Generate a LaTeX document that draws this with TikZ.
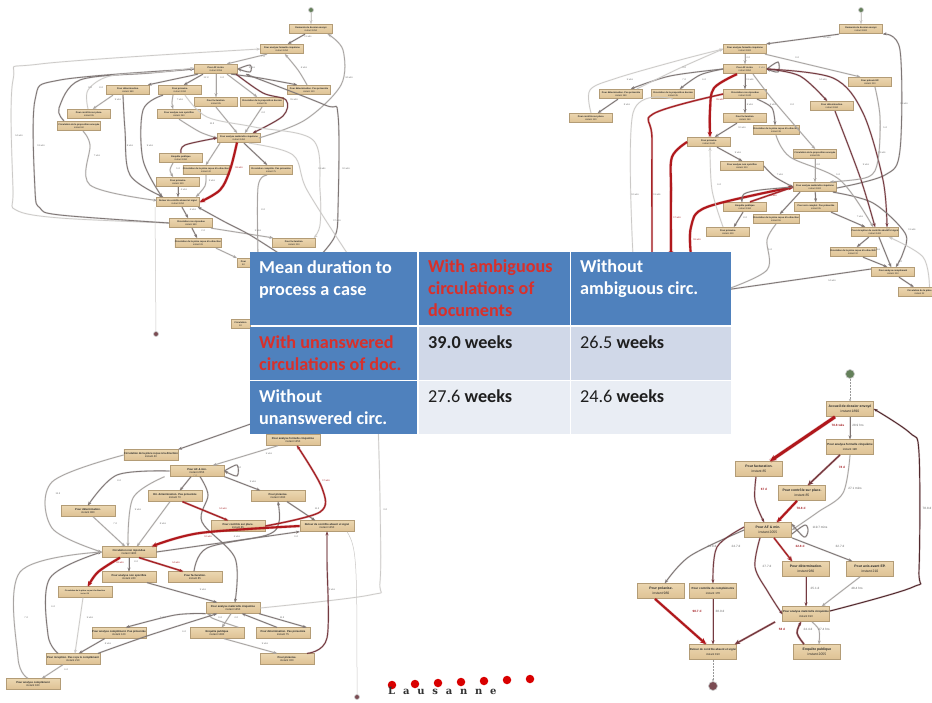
\documentclass[tikz,border=0pt]{standalone}
\usepackage{fontspec}
\usetikzlibrary{arrows.meta}
\setmainfont{Liberation Sans}
\newfontfamily\calib{Carlito}
\newfontfamily\lausfont[LetterSpace=78]{DejaVu Serif}
\definecolor{hdr}{HTML}{4F81BD}
\definecolor{rowa}{HTML}{D0D8E8}
\definecolor{rowb}{HTML}{E9EDF4}
\definecolor{redtxt}{HTML}{D8302B}
\definecolor{tana}{HTML}{EBD6B0}
\definecolor{tanb}{HTML}{DEC294}
\definecolor{tanl}{HTML}{B39C76}
\definecolor{cgl}{HTML}{CBC9C7}
\definecolor{cgm}{HTML}{A8A4A2}
\definecolor{cgd}{HTML}{7E7675}
\definecolor{cmr}{HTML}{743A40}
\definecolor{crd}{HTML}{A62428}
\definecolor{crt}{HTML}{B0181C}
\definecolor{cstart}{HTML}{64805A}
\definecolor{cend}{HTML}{7A4B52}
\newcount\labc
\tikzset{
 pbase/.style={rectangle,draw=tanl,line width=.8pt,top color=tana,bottom color=tanb,inner sep=0pt,align=center,text=black!85},
 na/.style={pbase,minimum width=43pt,minimum height=9.5pt,font=\fontsize{2.3}{2.9}\selectfont},
 nc/.style={pbase,minimum width=54pt,minimum height=10.5pt,font=\fontsize{2.7}{3.3}\selectfont},
 nd/.style={pbase,minimum width=47pt,minimum height=15pt,font=\fontsize{3.4}{4.6}\selectfont},
 tipa/.style={-{Stealth[length=3.6pt,width=3pt]}},
 gl/.style={tipa,draw=cgl,line width=.7pt,preaction={draw=cgl,-,opacity=.25,line width=1.5pt}},
 gm/.style={tipa,draw=cgm,line width=.8pt,preaction={draw=cgm,-,opacity=.25,line width=1.6pt}},
 gd/.style={tipa,draw=cgd,line width=.85pt,preaction={draw=cgd,-,opacity=.25,line width=1.7pt}},
 mr/.style={tipa,draw=cmr,line width=.95pt,preaction={draw=cmr,-,opacity=.25,line width=1.9pt}},
 rd/.style={tipa,draw=crd,line width=1.4pt,preaction={draw=crd,-,opacity=.25,line width=2.3pt}},
 rt/.style={-{Stealth[length=5pt,width=4.6pt]},draw=crt,line width=2.1pt,preaction={draw=crt,-,opacity=.25,line width=3pt}},
 rx/.style={-{Stealth[length=6.5pt,width=6pt]},draw=crt,line width=3pt,preaction={draw=crt,-,opacity=.25,line width=4pt}},
 nar/.style={draw=#1,line width=.5pt,-},
 pale/.style={draw=cgl,line width=.5pt,densely dotted,-{Stealth[length=2pt,width=2pt]}},
 startc/.style={circle,draw=black!20,fill=cstart,minimum size=5pt,inner sep=0pt,line width=.7pt},
 endc/.style={circle,draw=black!20,fill=cend,minimum size=5pt,inner sep=0pt,line width=.7pt},
 startd/.style={startc,minimum size=9pt},
 endd/.style={endc,minimum size=9pt},
 cell/.style={rectangle,inner sep=0pt,anchor=north west},
 ctext/.style={inner sep=0pt,anchor=north west,align=left,font=\calib\fontsize{18.2}{22}\selectfont\bfseries,text=white},
 vtext/.style={ctext,text=black!88,font=\calib\fontsize{18.2}{22}\selectfont},
 elab/.style={inner sep=0pt,text=black!55,font=\fontsize{2.4}{3}\selectfont},
 dlab/.style={inner sep=0pt,text=black!60,font=\fontsize{3.1}{3.6}\selectfont},
 dlabr/.style={dlab,text=crd,font=\fontsize{3.1}{3.6}\selectfont\bfseries},
 ldot/.style={circle,fill=red!85!black,minimum size=8.5pt,inner sep=0pt},
}
\newcommand\pn[5]{\node[#1] (#2) at (#3) {\textbf{#4}\\ #5};}
\newcommand\cv[2]{\draw[#1] plot[smooth,tension=.55] coordinates {#2};}
\newcommand\el[3][elab]{\global\advance\labc by 1 \node[#1] (lab\the\labc) at (#2) {#3};}
\begin{document}
\begin{tikzpicture}[x=1pt,y=-1pt]
\useasboundingbox (0,0) rectangle (932,702);
\fill[white] (0,0) rectangle (932,702);
% ---------- graph A (top left)
\node[startc] (as) at (311,10) {};
\node[endc] (ae) at (156,334) {};
\pn{na}{a1}{311,29}{Demande de dossier envoyé}{instant 1250}
\pn{na}{a2}{282,49}{Pour analyse formelle cinquième}{instant 1250}
\pn{na}{a3}{216,69}{Pour AF \& min.}{instant 2055}
\pn{na}{a4}{128,90}{Pour détermination.}{instant 980}
\pn{na}{a5}{180,90}{Pour préavise.}{instant 1090}
\pn{na}{a6}{309,90}{Pour détermination. Pas présentée}{instant 120}
\pn{na}{a7}{216,102}{Pour facturation.}{instant 85}
\pn{na}{a8}{262,102}{Circulation de la proposition donnée}{instant 35}
\pn{na}{a9}{89,114}{Pour contrôle sur place.}{instant 95}
\pn{na}{a10}{179,114}{Pour analyse non spécifiée}{instant 240}
\pn{na}{a11}{79,126}{Circulation de la proposition envoyée}{instant 60}
\pn{na}{a12}{239,138}{Pour analyse matérielle cinquième}{instant 1450}
\pn{na}{a13}{181,158}{Enquête publique}{instant 1080}
\pn{na}{a14}{206,170}{Circulation de la pièce reçue à la direction}{instant 42}
\pn{na}{a15}{271,170}{Circulation complète. Pas présentée}{instant 75}
\pn{na}{a16}{178,182}{Pour préavise.}{instant 320}
\pn{na}{a17}{178,202}{Retour de contrôle absent et signé}{instant 1250}
\pn{na}{a18}{191,223}{Circulation non répondue}{instant 980}
\pn{na}{a19}{198,243}{Circulation de la pièce reçue à la direction}{instant 28}
\pn{na}{a20}{294,243}{Pour facturation.}{instant 210}
\node[pbase,minimum width=13pt,minimum height=9.5pt,font=\fontsize{2.3}{2.9}\selectfont] (a21) at (243.5,263) {\textbf{Pour}\\60};
\node[pbase,minimum width=19pt,minimum height=9.5pt,font=\fontsize{2.3}{2.9}\selectfont] (a22) at (240.5,324) {\textbf{Circulation}\\30};
\coordinate (ah1) at (283,256);
\coordinate (ah2) at (349,256);
\coordinate (ah3) at (258,256);
\coordinate (ah4) at (320,256);
\draw[gl,line width=.5pt] (as) -- (a1);
\draw[gd] ([xshift=-6pt]a1.south) -- ([xshift=6pt]a2.north);
\draw[gm] ([xshift=-15pt]a2.south) -- ([xshift=11pt]a3.north);
\cv{gm}{([xshift=-2pt]a6.north) (298,70) ([xshift=3pt]a2.south)}
\cv{gm}{([xshift=-2pt]a12.east) (305,120) (341,85) (343,50) ([xshift=17pt]a1.south)}
\cv{gl}{(a18.west) (60,218) (16,210) (13,190) (13,80) (40,64) (a2.west)}
\cv{gd}{(a18.west) (60,215) (40,208) (35,190) (35,100) (60,80) (a3.west)}
\cv{gd}{([xshift=-15pt]a11.north) (59,108) (80,80) (150,73) (a3.west)}
\cv{gl}{([xshift=-1pt]a9.north) (88,90) (110,76) (160,72) ([yshift=1pt]a3.west)}
\draw[gd] ([xshift=-18pt]a3.south) -- ([xshift=20pt]a4.north);
\draw[gd] ([xshift=-13pt]a3.south) -- ([xshift=4pt]a5.north);
\draw[gm] (a3.south) -- (a7.north);
\draw[gm] ([xshift=11pt]a3.south) -- ([xshift=-5pt]a8.north);
\cv{gd}{([xshift=15pt]a3.south) (260,78) ([xshift=-12pt]a6.north)}
\cv{gd}{(a3.east) (250,65) (250,72) (a3.east)}
\cv{mr}{([xshift=20pt]a3.south) (263,93) (286,100) (283,116) ([xshift=14pt]a12.north)}
\draw[gm] ([xshift=-15pt]a4.south) -- ([xshift=4pt]a9.north);
\cv{gd}{([xshift=-5pt]a4.south) (125,130) (130,175) ([xshift=-15pt]a17.north)}
\cv{gd}{([xshift=-17pt]a5.south) (143,110) (143,160) ([xshift=-16pt]a17.north)}
\cv{gm}{([xshift=-7pt]a5.south) (172,103) ([xshift=-6pt]a10.north)}
\cv{gm}{(a7.south) ([xshift=-2pt]a12.north)}
\cv{gm}{(a8.south) ([xshift=6pt]a12.north)}
\cv{gm}{(a10.south) (200,132) (a12.west)}
\cv{mr}{(a13.north) (185,145) (a12.west)}
\draw[gm] ([xshift=-19pt]a12.south) -- (a14.north);
\draw[gd] ([xshift=5pt]a12.south) -- ([xshift=-4pt]a15.north);
\cv{rt}{(237,142.5) (230,170) (220,190) (a17.east)}
\cv{gm}{([xshift=-8pt]a13.south) (170,170) ([xshift=-5pt]a16.north)}
\cv{gm}{(a14.south) (205,186) ([xshift=18pt]a17.north)}
\draw[gd] (a16) -- (a17);
\draw[gd] ([xshift=4pt]a17.south) -- ([xshift=-3pt]a18.north);
\draw[gd] ([xshift=1pt]a18.south) -- ([xshift=-1pt]a19.north);
\cv{gm}{([xshift=20pt]a18.south) ([xshift=-21pt]a20.north)}
\draw[gm] ([xshift=18pt]a19.south) -- (a21.north west);
\cv{gm}{([xshift=4pt]a11.south) (90,145) (90,185) (157,200.5)}
\cv{gd}{(ah4) (335,236) (338,210) (338,115) (325,105) ([xshift=8pt]a3.south east)}
\cv{gd}{(ah1) (250,235) (225,222) ([xshift=20pt]a17.south)}
\cv{gl}{([xshift=10pt]a12.south) (293,155) (307,190) (ah2)}
\cv{gl}{([xshift=5pt]a5.south) (207,117) (254,127) (313,140) (320,190) (320,225) ([xshift=20pt]a20.north)}
\cv{gm}{([xshift=-4pt]a15.south) (258,187) (ah3)}
\draw[nar=cgl] ([xshift=-23pt]a17.south) -- (ae);
\el{308,37}{11 wks}\el{263,57}{7 d}\el{304,68}{6 wks}\el{252,68}{3 wks}\el{349,78}{34 wks}
\el{90,88}{9 d}\el{101,88}{8 d}\el{206,78}{12 d}\el{222,78}{6 d}\el{294,100}{15 wks}
\el{118,100}{9 wks}\el{180,100}{7 wks}\el{263,113}{4 d}\el{212,124}{11 d}\el{19,136}{14 wks}
\el{41,146}{13 wks}\el{97,156}{7 wks}\el{130,146}{8 wks}\el{150,146}{9 wks}\el{178,169}{5 d}
\el{212,181}{3 wks}\el{263,210}{8 d}\el{322,169}{11 wks}\el{346,169}{10 wks}\el{184,190}{4 wks}
\el{193,210}{6 wks}\el{203,231}{2 d}\el{258,231}{5 wks}\el{337,221}{17 wks}
\el[elab,text=crd]{239,168}{18 wks}
% ---------- graph B (top right)
\node[startc] (bs) at (861,10) {};
\pn{na}{b1}{861,29}{Demande de dossier envoyé}{instant 1900}
\pn{na}{b2}{745,49}{Pour analyse formelle cinquième}{instant 1900}
\pn{na}{b3}{745,69}{Pour AF \& min.}{instant 2850}
\pn{na}{b4}{621,94}{Pour détermination. Pas présentée}{instant 180}
\pn{na}{b5}{673,94}{Circulation de la proposition donnée}{instant 45}
\pn{na}{b6}{745,94}{Circulation non répondue}{instant 1240}
\pn{na}{b7}{870,82}{Pour préavis EP.}{instant 210}
\pn{na}{b8}{832,106}{Pour détermination.}{instant 1060}
\pn{na}{b9}{591,118}{Pour contrôle sur place.}{instant 120}
\pn{na}{b10}{745,118}{Pour facturation.}{instant 160}
\pn{na}{b11}{776,130}{Circulation de la pièce reçue à la direction}{instant 38}
\pn{na}{b12}{709,142}{Pour préavise.}{instant 1240}
\pn{na}{b13}{815,154}{Circulation de la proposition envoyée}{instant 85}
\pn{na}{b14}{742,166}{Pour analyse non spécifiée}{instant 310}
\pn{na}{b15}{815,187}{Pour analyse matérielle cinquième}{instant 1900}
\pn{na}{b16}{745,207}{Enquête publique}{instant 1360}
\pn{na}{b17}{816,207}{Pour avis complet. Pas présentée}{instant 95}
\pn{na}{b18}{776,219}{Circulation de la pièce reçue à la direction}{instant 55}
\pn{na}{b19}{728,232}{Pour préavise.}{instant 430}
\pn{na}{b20}{875,232}{Pour réception de contrôle absent et signé}{instant 1400}
\pn{na}{b21}{853,252}{Circulation de la pièce reçue à la direction}{instant 32}
\pn{na}{b22}{893,272}{Pour analyse complément}{instant 210}
\node[na] (b23) at (919.5,292) {\textbf{Circulation de la pièce}\\instant 22};
\coordinate (bh1) at (671,256);
\coordinate (bh2) at (652,256);
\coordinate (bh3) at (633,256);
\coordinate (bh4) at (691,256);
\coordinate (bh5) at (725,290);
\draw[gl,line width=.5pt] (bs) -- (b1);
\draw[gd] (b1.south west) -- ([xshift=21.5pt]b2.north);
\draw[gm] (b2) -- (b3);
\draw[gm] ([xshift=20pt]b2.south) -- ([xshift=-10pt]b7.north);
\cv{gd}{([yshift=-1pt]b15.east) (885,175) (900,150) (900,50) ([xshift=22pt]b1.south)}
\cv{gl}{(b9.north) (590,90) (617,78) (680,60) (b2.west)}
\cv{gd}{(b3.west) (670,76) ([xshift=10pt]b4.north)}
\cv{gd}{(b3.west) (700,75) ([xshift=7pt]b5.north)}
\cv{gl}{([xshift=16pt]b4.north) (680,68) (b2.west)}
\draw[gd] ([xshift=-3pt]b4.south) -- ([xshift=7pt]b9.north);
\draw[gd] (b3) -- (b6);
\cv{rt}{([xshift=-8pt]b3.south) (714,88) (710,110) ([xshift=1pt]b12.north)}
\cv{gm}{([xshift=8pt]b3.south) (773,100) (b13.north)}
\cv{gd}{(b3.east) (778,62) (778,72) (b3.east)}
\cv{mr}{(b3.east) (800,76) ([xshift=-5pt]b8.north)}
\cv{mr}{(b3.east) (833,78) (863,113) (883,180) ([xshift=12pt]b20.north)}
\draw[gd] (b6) -- (b10);
\cv{gd}{([xshift=12pt]b6.south) (772,108) ([xshift=-1pt]b11.north)}
\draw[gd] ([xshift=-8pt]b10.south) -- ([xshift=6pt]b12.north);
\draw[gd] ([xshift=8pt]b12.south) -- (b14.north);
\cv{gd}{(b14.east) (775,177) (b15.west)}
\cv{rd}{(b6.west) (653,114) (652,140) (bh2)}
\cv{gl}{(b5.south) (633,113) (bh3)}
\cv{rt}{(b12.west) (672,157) (671,190) (bh1)}
\cv{rt}{(bh4) (691,227) (707,207) (b15.west)}
\cv{rd}{([xshift=5pt]b16.north) (b15.west)}
\cv{gd}{(b15.west) (760,190) (744,194) ([xshift=-3pt]b16.north)}
\draw[gd] ([xshift=-2pt]b16.south) -- ([xshift=6pt]b19.north);
\cv{gl}{([xshift=-5pt]b19.north) (712,190) ([xshift=1pt]b12.south)}
\draw[gd] (b15) -- (b17);
\draw[gd] ([xshift=-15pt]b15.south) -- ([xshift=4pt]b18.north);
\draw[gm] (b13) -- (b15);
\cv{gm}{(b18.south) (767,240) (767,270) (bh5)}
\draw[gd] ([yshift=3pt]b22.west) -- (bh5);
\draw[gd] ([xshift=15pt]b17.south) -- ([xshift=-10pt]b20.north);
\cv{gd}{([xshift=18pt]b15.south) (873,203) (905,233) (903,253) ([xshift=3pt]b22.north)}
\cv{mr}{([xshift=3pt]b8.south) (860,177) (b20.north)}
\cv{gm}{([xshift=5pt]b7.south) (880,117) (878,160) (868,177) ([xshift=15pt]b15.north)}
\cv{gm}{(b11.south) (790,157) (840,180) ([xshift=-2pt]b20.north)}
\draw[gd] (b20) -- ([xshift=4pt]b21.north);
\draw[gd] ([xshift=10pt]b21.south) -- ([xshift=-6pt]b22.north);
\draw[gd] ([xshift=4pt]b20.south) -- ([xshift=-2pt]b22.north);
\draw[gd] ([xshift=6pt]b22.south) -- ([xshift=-6pt]b23.north);
\cv{gl}{([xshift=10pt]b23.north) (923,257) ([xshift=14pt]b20.south)}
\el{827,38}{12 wks}\el{748,58}{4 d}\el{797,58}{9 d}\el{684,68}{3 d}\el{630,80}{5 wks}
\el{684,80}{7 d}\el{704,80}{6 d}\el{750,80}{11 wks}\el{823,80}{14 wks}\el{762,68}{3 wks}
\el{627,105}{8 wks}\el{750,105}{6 wks}\el{773,105}{9 wks}\el{792,105}{8 d}\el{904,104}{15 wks}
\el{742,128}{10 wks}\el{885,128}{5 d}\el{738,153}{9 wks}\el{780,175}{7 wks}\el{882,153}{11 wks}
\el{818,165}{4 d}\el{866,165}{9 wks}\el{838,175}{5 d}\el{635,195}{12 wks}\el{657,195}{11 wks}
\el{719,185}{6 d}\el[elab,text=crd]{720,100}{15 wks}\el[elab,text=crd]{677,218}{17 wks}
\el[elab,text=crd]{697,240}{19 wks}\el[elab,text=crd]{773,196}{18 wks}\el{745,218}{8 d}\el{770,250}{5 d}
\el{860,217}{7 wks}\el{888,230}{9 d}\el{877,250}{6 wks}\el{912,230}{11 wks}\el{832,281}{14 wks}\el{900,262}{4 d}
% ---------- graph C (bottom left)
\node[endc] (ce) at (357,697) {};
\pn{nc}{c1}{293,440}{Pour analyse formelle cinquième}{instant 1250}
\pn{nc}{c2}{151,455}{Circulation de la pièce reçue à la direction}{instant 40}
\pn{nc}{c3}{197,471}{Pour AF \& min.}{instant 2055}
\pn{nc}{c4}{175,496}{Dir. détermination. Pas présentée}{instant 70}
\pn{nc}{c5}{278,496}{Pour préavise.}{instant 1090}
\pn{nc}{c6}{88,511}{Pour détermination.}{instant 980}
\pn{nc}{c7}{238,526}{Pour contrôle sur place.}{instant 85}
\pn{nc}{c8}{327,526}{Retour de contrôle absent et signé}{instant 1250}
\pn{nc}{c9}{129,552}{Circulation non répondue}{instant 1980}
\pn{nc}{c10}{129,577}{Pour analyse non spécifiée}{instant 240}
\pn{nc}{c11}{195,577}{Pour facturation.}{instant 85}
\node[pbase,nc,font=\fontsize{2}{2.6}\selectfont] (c12) at (85,592) {\textbf{Circulation de la pièce reçue à la direction}\\instant 28};
\pn{nc}{c13}{233,608}{Pour analyse matérielle cinquième}{instant 1450}
\pn{nc}{c14}{119,633}{Pour analyse complément. Pas présentée}{instant 120}
\pn{nc}{c15}{217,633}{Enquête publique}{instant 1080}
\pn{nc}{c16}{283,633}{Pour détermination. Pas présentée}{instant 75}
\pn{nc}{c17}{73,659}{Pour réception. Pas reçu le complément}{instant 210}
\pn{nc}{c18}{287,659}{Pour préavise.}{instant 320}
\pn{nc}{c19}{33,684}{Pour analyse complément}{instant 180}
\coordinate (ch1) at (262,420);
\coordinate (ch2) at (378,420);
\cv{gd}{(ch1) (c2.north east)}
\cv{gl}{(c13.east) (370,595) (380,582) (380,500) (ch2)}
\draw[gm] ([xshift=-15pt]c1.south) -- ([xshift=16pt]c3.north);
\cv{gm}{(c2.west) (52,482) (52,528) (c9.west)}
\cv{gd}{(c3.east) (237,465) (237,476) (c3.east)}
\cv{gd}{(c3.west) (117,475) (c6.north)}
\cv{gm}{([xshift=-5pt]c3.south west) (133,498) ([xshift=-1pt]c9.north)}
\draw[gd] ([xshift=-6pt]c3.south) -- ([xshift=5pt]c4.north);
\draw[gd] (c3.south east) -- ([xshift=-18pt]c5.north);
\cv{gd}{([xshift=3pt]c3.south) (208,495) (202,522) (235,558) ([xshift=2pt]c13.north)}
\cv{rd}{([xshift=-20pt]c4.south east) ([xshift=-10pt]c7.north)}
\draw[gm] ([xshift=-5pt]c4.south) -- ([xshift=8pt]c9.north);
\draw[gm] ([xshift=5pt]c6.south) -- ([xshift=-4pt]c9.north);
\draw[gd] ([xshift=9pt]c5.south) -- ([xshift=-12pt]c8.north);
\cv{gd}{([xshift=-1pt]c11.north) (207,548) (267,535) (279,522) (c5.south)}
\cv{rd}{(c7.east) (320,512) (322,488) ([xshift=4pt]c1.south)}
\cv{rt}{(c8.west) (200,533) ([xshift=23pt]c9.north)}
\draw[gd] (c9.east) -- (c8.south west);
\draw[gd] (c9) -- (c10);
\cv{rd}{([xshift=10pt]c9.south) ([xshift=-12pt]c11.north)}
\cv{rt}{([xshift=-9pt]c9.south) (98,572) ([xshift=3pt]c12.north)}
\draw[gd] ([xshift=18pt]c10.south) -- ([xshift=-16pt]c13.north);
\cv{gl}{([xshift=-2pt]c12.south) ([xshift=2pt]c17.north)}
\cv{gd}{(c13.south west) (175,615) ([xshift=7pt]c14.north)}
\cv{gm}{([xshift=-6pt]c15.north east) (212,618) ([xshift=-22pt]c13.south)}
\cv{gm}{([xshift=-2pt]c13.south) ([xshift=5pt]c15.north)}
\draw[gd] ([xshift=-6pt]c16.north) -- ([xshift=9pt]c13.south);
\draw[gd] ([xshift=26pt]c13.south) -- ([xshift=-4pt]c16.north east);
\cv{gd}{([xshift=25pt]c17.north) (150,635) ([xshift=-16pt]c13.south)}
\draw[gd] ([xshift=13pt]c14.south west) -- ([xshift=6pt]c17.north);
\draw[gm] ([xshift=7pt]c15.south) -- ([xshift=-10pt]c18.north);
\cv{mr}{([xshift=20pt]c18.north) (327,638) (327,560) (c8.south)}
\cv{gd}{([xshift=-15pt]c17.north) (48,635) (50,578) (c9.west)}
\cv{gm}{([xshift=-5pt]c19.north) (18,658) (20,572) (c9.west)}
\draw[gm] ([xshift=-10pt]c17.south) -- ([xshift=9pt]c19.north);
\draw[nar=cgl] ([xshift=20pt]c8.south) .. controls (357,548) and (357,560) .. (ce);
\el{269,454}{5 wks}\el{239,468}{7 d}\el{119,481}{8 d}\el{253,482}{9 wks}\el{195,476}{7 d}
\el{58,494}{13 d}\el{138,510}{9 wks}\el{115,524}{7 d}\el{163,524}{8 wks}\el{317,509}{11 d}
\el{237,537}{6 wks}\el{266,537}{5 wks}\el{296,537}{9 d}\el[elab,text=crd]{120,563}{19 wks}
\el[elab,text=crd]{176,563}{14 wks}\el[elab,text=crd]{223,509}{14 wks}\el[elab,text=crd]{326,481}{17 wks}
\el[elab,text=crd]{208,537}{12 wks}\el{136,562}{8 d}\el{53,607}{6 d}\el{203,590}{9 wks}\el{26,618}{7 d}
\el{90,618}{5 wks}\el{163,618}{7 wks}\el{184,632}{6 d}\el{220,618}{9 d}\el{236,618}{4 d}\el{282,618}{11 d}
\el{108,644}{8 wks}\el{265,644}{9 wks}\el{66,670}{6 d}\el{332,590}{4 wks}\el{385,510}{3 d}
% ---------- graph D (bottom right)
\node[startd] (ds) at (850,374) {};
\node[endd] (de) at (713,686) {};
\pn{nd}{d1}{850,409}{Accueil de dossier envoyé}{instant 1890}
\node[pbase,nd,font=\fontsize{2.9}{4.2}\selectfont] (d2) at (850,447) {\textbf{Pour analyse formelle cinquième}\\instant 190};
\pn{nd}{d3}{759,469}{Pour facturation.}{instant 85}
\pn{nd}{d4}{802,493}{Pour contrôle sur place.}{instant 85}
\pn{nd}{d5}{768,530}{Pour AF \& min.}{instant 2055}
\pn{nd}{d6}{806,569}{Pour détermination.}{instant 980}
\pn{nd}{d7}{870,569}{Pour avis avant EP.}{instant 210}
\pn{nd}{d8}{661,591}{Pour préavise.}{instant 980}
\node[pbase,nd,font=\fontsize{2.9}{4.2}\selectfont] (d9) at (713,591) {\textbf{Pour contrôle de compléments}\\instant 170};
\node[pbase,nd,font=\fontsize{2.8}{4.2}\selectfont] (d10) at (806,614) {\textbf{Pour analyse matérielle cinquième}\\instant 190};
\node[pbase,nd,font=\fontsize{2.8}{4.2}\selectfont] (d11) at (713,652) {\textbf{Retour de contrôle absent et signé}\\instant 190};
\pn{nd}{d12}{817,652}{Enquête publique}{instant 2055}
\draw[pale,draw=black!40] (ds) -- (d1);
\draw[gd] (d1) -- (d2);
\draw[rx] ([xshift=-15pt]d1.south) -- ([xshift=11pt]d3.north);
\draw[rd,draw=cmr,-{Stealth[length=5pt,width=5pt]}] ([xshift=-10pt]d2.south) -- ([xshift=6pt]d4.north);
\cv{gm}{([xshift=0pt]d2.south) (843,493) (818,512) (d5.east)}
\cv{mr}{([xshift=-3pt]d3.south) (755,500) ([xshift=-4pt]d5.north)}
\draw[rt] ([xshift=-5pt]d4.south) -- ([xshift=9pt]d5.north);
\cv{gd}{([yshift=-4pt]d5.east) (805,525) (808,531) (804,537) ([yshift=6pt]d5.east)}
\cv{gd}{(d5.west) (690,556) ([xshift=4pt]d8.north)}
\cv{mr}{([yshift=3pt]d5.west) (717,547) (d9.north)}
\cv{mr}{([xshift=-8pt]d5.south) (755,567) (768,592) (d10.west)}
\draw[rd,-{Stealth[length=5pt,width=5pt]}] ([xshift=6pt]d5.south) -- ([xshift=-14pt]d6.north);
\draw[gd] ([xshift=24pt]d5.south) -- ([xshift=-18pt]d7.north);
\draw[mr] (d6) -- (d10);
\draw[gm] ([xshift=-10pt]d7.south) -- ([xshift=16pt]d10.north);
\draw[rt,-{Stealth[length=6pt,width=5.5pt]}] ([xshift=-6pt]d8.south) -- ([xshift=-7pt]d11.north);
\draw[mr] (d9) -- (d11);
\draw[rd,draw=cmr,-{Stealth[length=5pt,width=5pt]}] ([xshift=-7pt]d10.south west) -- ([xshift=22pt]d11.north);
\cv{rd,draw=cmr}{([xshift=-13pt]d12.north) (797,633) ([xshift=-5pt]d10.south)}
\cv{gm}{([xshift=6pt]d10.south) (819,630) ([xshift=2pt]d12.north)}
\cv{mr,draw=cmr!70!black}{([yshift=3pt]d10.east) (913,587) (919,570) (919,453) (910,433) (d1.east)}
\draw[pale,draw=black!40] (d11) -- (de);
\el[dlabr]{838,425}{78.8 wks}\el[dlab]{858,425}{28.9 hrs}
\el[dlabr]{842,467}{78 d}\el[dlab]{855,488}{27.1 mins}
\el[dlabr]{764,489}{67 d}\el[dlabr]{801,508}{78.8 d}
\el[dlab]{820,527}{119.7 mins}\el[dlabr]{800,546}{32.8 d}\el[dlab]{840,546}{32.7 d}
\el[dlab]{712,546}{24.8 d}\el[dlab]{736,546}{24.7 d}\el[dlab]{767,566}{27.7 d}
\el[dlab]{815,588}{25.1 d}\el[dlab]{857,588}{48.4 hrs}\el[dlabr]{697,611}{98.7 d}
\el[dlab]{720,611}{38.9 d}\el[dlabr]{782,629}{58 d}\el[dlab]{808,629}{24.4 d}
\el[dlab]{824,629}{27.4 hrs}\el[dlab]{927,508}{78.8 d}
% ---------- table
\node[cell,fill=hdr,minimum width=167pt,minimum height=73pt] (t00) at (250,252) {};
\node[cell,fill=hdr,minimum width=151pt,minimum height=73pt] (t01) at (419,252) {};
\node[cell,fill=hdr,minimum width=160pt,minimum height=73pt] (t02) at (571,252) {};
\node[cell,fill=hdr,minimum width=167pt,minimum height=53pt] (t10) at (250,327) {};
\node[cell,fill=rowa,minimum width=151pt,minimum height=53pt] (t11) at (419,327) {};
\node[cell,fill=rowa,minimum width=160pt,minimum height=53pt] (t12) at (571,327) {};
\node[cell,fill=hdr,minimum width=167pt,minimum height=53pt] (t20) at (250,381) {};
\node[cell,fill=rowb,minimum width=151pt,minimum height=53pt] (t21) at (419,381) {};
\node[cell,fill=rowb,minimum width=160pt,minimum height=53pt] (t22) at (571,381) {};
\node[ctext] (x00) at (259,260) {Mean duration to\\process a case};
\node[ctext,text=redtxt] (x01) at (428,260) {With ambiguous\\circulations of\\documents};
\node[ctext] (x02) at (580,260) {Without\\ambiguous circ.};
\node[ctext,text=redtxt] (x10) at (259,336) {With unanswered\\circulations of doc.};
\node[vtext] (x11) at (428,336) {\textbf{39.0 weeks}};
\node[vtext] (x12) at (580,336) {26.5 \textbf{weeks}};
\node[ctext] (x20) at (259,390) {Without\\unanswered circ.};
\node[vtext] (x21) at (428,390) {27.6 \textbf{weeks}};
\node[vtext] (x22) at (580,390) {24.6 \textbf{weeks}};
% ---------- logo
\node[ldot] (d1l) at (392,685) {};
\node[ldot] (d2l) at (415,684) {};
\node[ldot] (d3l) at (438,683) {};
\node[ldot] (d4l) at (461,682) {};
\node[ldot] (d5l) at (484,681) {};
\node[ldot] (d6l) at (507,680) {};
\node[ldot] (d7l) at (530,679) {};
\node[inner sep=0pt,anchor=base west,font=\lausfont\fontsize{10}{11}\selectfont\bfseries,text=black!80] (laus) at (388,694) {Lausanne};
\end{tikzpicture}
\end{document}
